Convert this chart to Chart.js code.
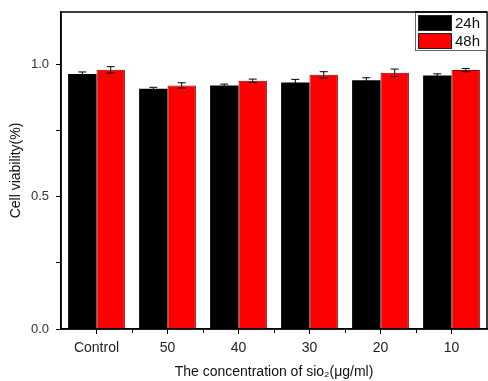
<!DOCTYPE html>
<html>
<head>
<meta charset="utf-8">
<script src="https://cdn.jsdelivr.net/npm/chart.js@4/dist/chart.umd.min.js"></script>
<style>
html,body{margin:0;padding:0;background:#fff;}
#wrap{width:488px;height:381px;position:relative;}
</style>
</head>
<body>
<div id="wrap"><canvas id="c" width="488" height="381"></canvas></div>
<script>
const categories = ['Control', '50', '40', '30', '20', '10'];
const series24h = [0.965, 0.909, 0.922, 0.933, 0.942, 0.960];
const series48h = [0.981, 0.922, 0.940, 0.962, 0.970, 0.980];
const err24h = [0.008, 0.006, 0.005, 0.012, 0.009, 0.006];
const err48h = [0.012, 0.010, 0.006, 0.012, 0.014, 0.006];
const yTickLabels = {0: '0.0', 0.5: '0.5', 1: '1.0'};
const seriesNames = ['24h', '48h'];
const seriesColors = ['#000000', '#ff0000'];

const FONT = '"Liberation Sans", Arial, sans-serif';

const framePlugin = {
  id: 'frame',
  afterDatasetsDraw(chart) {
    const ctx = chart.ctx, a = chart.chartArea;
    const x = chart.scales.x, y = chart.scales.y;
    ctx.save();
    const errs = [err24h, err48h];
    chart.data.datasets.forEach((ds, di) => {
      const meta = chart.getDatasetMeta(di);
      meta.data.forEach((bar, i) => {
        const v = ds.data[i], e = errs[di][i];
        const yt = y.getPixelForValue(v + e), yb = y.getPixelForValue(v - e);
        ctx.strokeStyle = '#000';
        ctx.lineWidth = 1;
        ctx.beginPath();
        ctx.moveTo(bar.x, yt); ctx.lineTo(bar.x, yb);
        ctx.moveTo(bar.x - 4, yt); ctx.lineTo(bar.x + 4, yt);
        ctx.moveTo(bar.x - 4, yb); ctx.lineTo(bar.x + 4, yb);
        ctx.stroke();
      });
    });
    ctx.strokeStyle = '#000';
    ctx.lineWidth = 1.5;
    ctx.strokeRect(a.left, a.top, a.right - a.left, a.bottom - a.top);
    ctx.lineWidth = 1;
    const n = categories.length;
    const w = (a.right - a.left) / n;
    ctx.beginPath();
    for (let i = 1; i < n; i++) {
      const px = Math.round(x.getPixelForValue(i) - w / 2) + 0.5;
      ctx.moveTo(px, a.bottom); ctx.lineTo(px, a.bottom + 4);
    }
    ctx.stroke();
    const lx = 415, ly = a.top, lw = a.right - 415, lh = 38;
    ctx.fillStyle = '#fff';
    ctx.fillRect(lx, ly, lw, lh);
    ctx.strokeStyle = '#666';
    ctx.lineWidth = 1;
    ctx.strokeRect(lx + 0.5, ly + 0.5, lw - 1, lh);
    ctx.strokeStyle = '#000';
    ctx.lineWidth = 1.5;
    ctx.beginPath(); ctx.moveTo(lx, a.top); ctx.lineTo(a.right, a.top); ctx.stroke();
    seriesNames.forEach((name, i) => {
      const sy = ly + 3 + i * 18;
      ctx.fillStyle = seriesColors[i];
      ctx.fillRect(418, sy, 34, 16);
      ctx.strokeStyle = '#222';
      ctx.lineWidth = 1;
      ctx.strokeRect(418.5, sy + 0.5, 33, 15);
      ctx.fillStyle = '#111';
      ctx.font = '15px ' + FONT;
      ctx.textBaseline = 'middle';
      ctx.textAlign = 'left';
      ctx.fillText(name, 455, sy + 8.5);
    });
    ctx.restore();
  }
};

new Chart(document.getElementById('c'), {
  type: 'bar',
  data: {
    labels: categories,
    datasets: [
      { label: seriesNames[0], data: series24h, backgroundColor: seriesColors[0], borderColor: '#000', borderWidth: 0 },
      { label: seriesNames[1], data: series48h, backgroundColor: seriesColors[1], borderColor: '#8a0000', borderWidth: 1 }
    ]
  },
  options: {
    responsive: false,
    animation: false,
    devicePixelRatio: 1,
    layout: { padding: { top: 12, right: 1, left: 0, bottom: 0 } },
    datasets: { bar: { categoryPercentage: 0.8, barPercentage: 1.0 } },
    plugins: { legend: { display: false }, tooltip: { enabled: false } },
    scales: {
      x: {
        offset: true,
        grid: { display: true, drawOnChartArea: false, offset: false, tickLength: 5, color: '#000', lineWidth: 1 },
        border: { display: true, color: '#000', width: 1.5 },
        ticks: { color: '#222', font: { family: FONT, size: 14 }, padding: 6, maxRotation: 0 },
        title: { display: true, text: 'The concentration of sio\u2082(\u03bcg/ml)', color: '#111', font: { family: FONT, size: 14 }, padding: { top: 0, bottom: 0 } },
        afterFit(s) { s.height = 52; s.paddingLeft = 0; s.paddingRight = 0; }
      },
      y: {
        min: 0, max: 1.2,
        grid: { display: true, drawOnChartArea: false, tickLength: 5, color: '#000', lineWidth: 1 },
        border: { display: true, color: '#000', width: 1.5 },
        ticks: {
          stepSize: 0.25,
          color: '#333', font: { family: FONT, size: 13 }, padding: 7,
          callback(v) { const k = Math.round(v * 100) / 100; return yTickLabels[k] !== undefined ? yTickLabels[k] : ''; }
        },
        afterBuildTicks(s) { s.ticks = s.ticks.filter(t => t.value <= 1.0001); },
        title: { display: true, text: 'Cell viability(%)', color: '#111', font: { family: FONT, size: 14 }, padding: { top: 8, bottom: 4 } },
        afterFit(s) { s.width = 61; s.paddingTop = 0; s.paddingBottom = 0; }
      }
    }
  },
  plugins: [framePlugin]
});
</script>
</body>
</html>
